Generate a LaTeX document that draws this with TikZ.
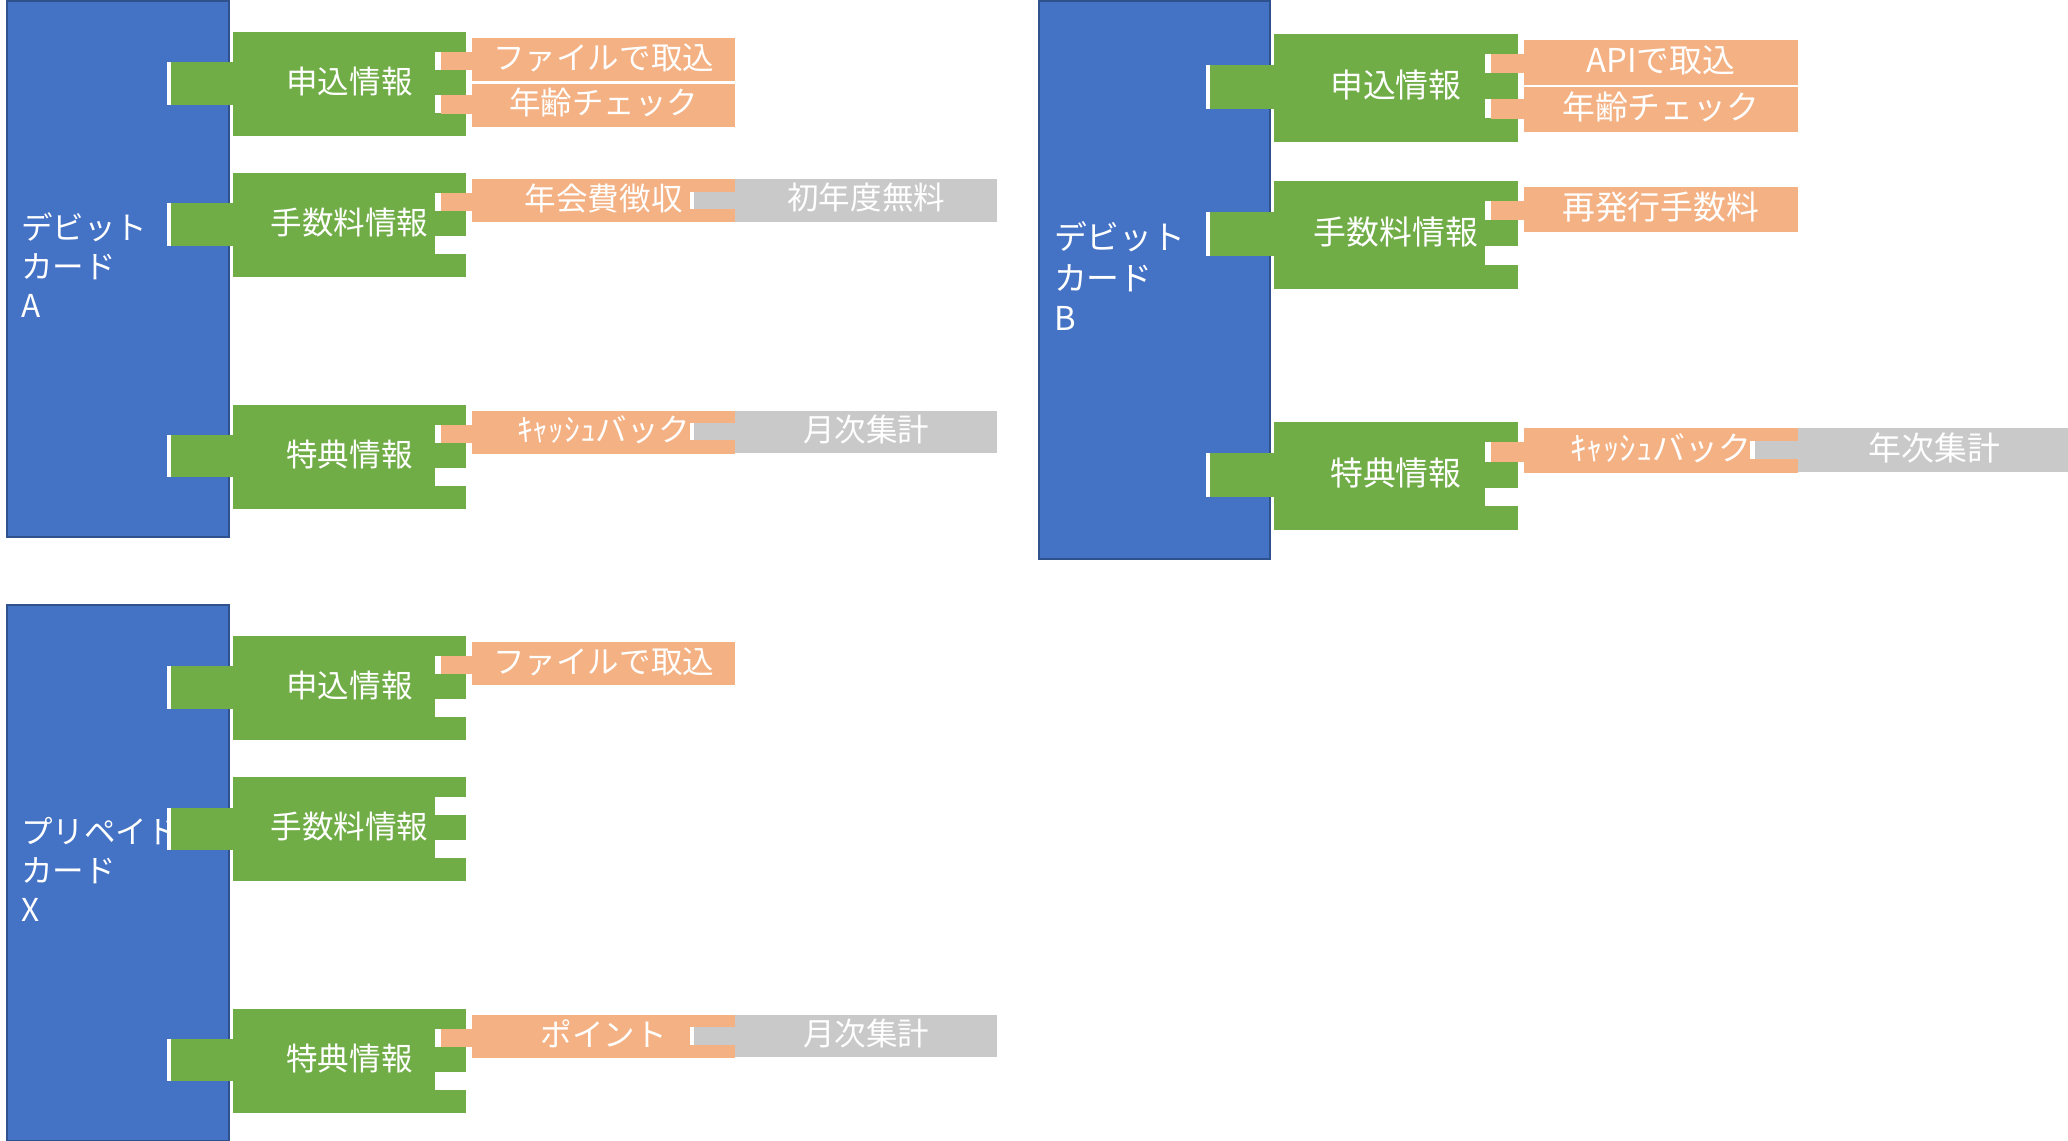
\documentclass[tikz,border=0pt]{standalone}
\usepackage{fontspec}
\setmainfont{Noto Sans CJK JP}
\usetikzlibrary{positioning}
\definecolor{cardblue}{HTML}{4472C4}
\definecolor{cardedge}{HTML}{2F528F}
\definecolor{infogreen}{HTML}{70AD47}
\definecolor{itemorange}{HTML}{F4B183}
\definecolor{subgray}{HTML}{C9C9C9}
\newcommand\boxfont{\fontsize{6.8pt}{8.4pt}\selectfont}
\tikzset{
        boxbase/.style={anchor=north west, inner sep=0pt, text=white, font=\boxfont, text height=5.44pt, text depth=1.36pt},
        % Card (blue)
        card/.style={boxbase, fill=cardblue, draw=cardedge, line width=0.45pt, minimum width=1.683cm, minimum height=4.06cm},
        cardtext/.style={anchor=west, align=left, inner sep=0pt, text=white, font=\boxfont},
        % Info blocks (green)
        info/.style={boxbase, fill=infogreen, minimum width=1.771cm, minimum height=0.785cm},
        % Items (orange)
        item/.style={boxbase, fill=itemorange, minimum width=1.99cm, minimum height=0.325cm},
        % Sub items (gray)
        subitem/.style={boxbase, fill=subgray, minimum width=1.985cm, minimum height=0.32cm}
}
% green block with its tab in the card and two notches on the right
\newcommand\infoblock[3]{%
        \fill[white] (126.8,#2+23.5) rectangle (174.2,#2+55.5);
        \fill[infogreen] (129.4,#2+23.5) rectangle (176.5,#2+55.5);
        \node[info] (#1) at (175.7,#2) {#3};
        \fill[white] (329.6,#2+15.5) rectangle (354,#2+29.5);
        \fill[white] (329.6,#2+48.5) rectangle (354,#2+62);
}
% orange item: tab top, box top
\newcommand\itemblock[4]{%
        \fill[itemorange] (334,#2) rectangle (358.5,#2+14);
        \node[item] (#1) at (357.5,#3) {#4};
}
% gray sub item plugged into an orange item
\newcommand\subblock[3]{%
        \fill[white] (522.8,#2+10) rectangle (557,#2+23);
        \fill[subgray] (526,#2+10) rectangle (557.5,#2+23);
        \node[subitem] (#1) at (556.8,#2) {#3};
}

\begin{document}
\begin{tikzpicture}[x=0.01cm, y=-0.01cm]
        \useasboundingbox (0,0) rectangle (1568,865);

        % debit card A
        \begin{scope}
                \node[card] (a-card) at (4.4,0) {};
                \node[cardtext] (a-name) at (15.5,201) {デビット\\カード\\A};
                \infoblock{a-apply}{23.8}{申込情報}
                \infoblock{a-fee}{130.8}{手数料情報}
                \infoblock{a-bonus}{306.5}{特典情報}
                \itemblock{a-file}{39.3}{28.3}{ファイルで取込}
                \itemblock{a-age}{72.3}{62.8}{年齢チェック}
                \itemblock{a-annual}{146.3}{135.3}{年会費徴収}
                \subblock{a-free}{135.3}{初年度無料}
                \itemblock{a-cash}{322}{311}{ｷｬｯｼｭバック}
                \subblock{a-month}{311}{月次集計}
        \end{scope}

        % prepaid card X
        \begin{scope}[shift={(0,458)}]
                \node[card] (x-card) at (4.4,0) {};
                \node[cardtext] (x-name) at (15.5,201) {プリペイド\\カード\\X};
                \infoblock{x-apply}{23.8}{申込情報}
                \infoblock{x-fee}{130.8}{手数料情報}
                \infoblock{x-bonus}{306.5}{特典情報}
                \itemblock{x-file}{39.3}{28.3}{ファイルで取込}
                \itemblock{x-point}{322}{311}{ポイント}
                \subblock{x-month}{311}{月次集計}
        \end{scope}

        % debit card B
        \begin{scope}[shift={(782.3,0)}, scale=1.042, transform shape]
                \node[card] (b-card) at (4.4,0) {};
                \node[cardtext] (b-name) at (15.5,201) {デビット\\カード\\B};
                \infoblock{b-apply}{23.8}{申込情報}
                \infoblock{b-fee}{130.8}{手数料情報}
                \infoblock{b-bonus}{306.5}{特典情報}
                \itemblock{b-api}{39.3}{28.3}{APIで取込}
                \itemblock{b-age}{72.3}{62.8}{年齢チェック}
                \itemblock{b-reissue}{146.3}{135.3}{再発行手数料}
                \itemblock{b-cash}{322}{311}{ｷｬｯｼｭバック}
                \subblock{b-year}{311}{年次集計}
        \end{scope}
\end{tikzpicture}
\end{document}
